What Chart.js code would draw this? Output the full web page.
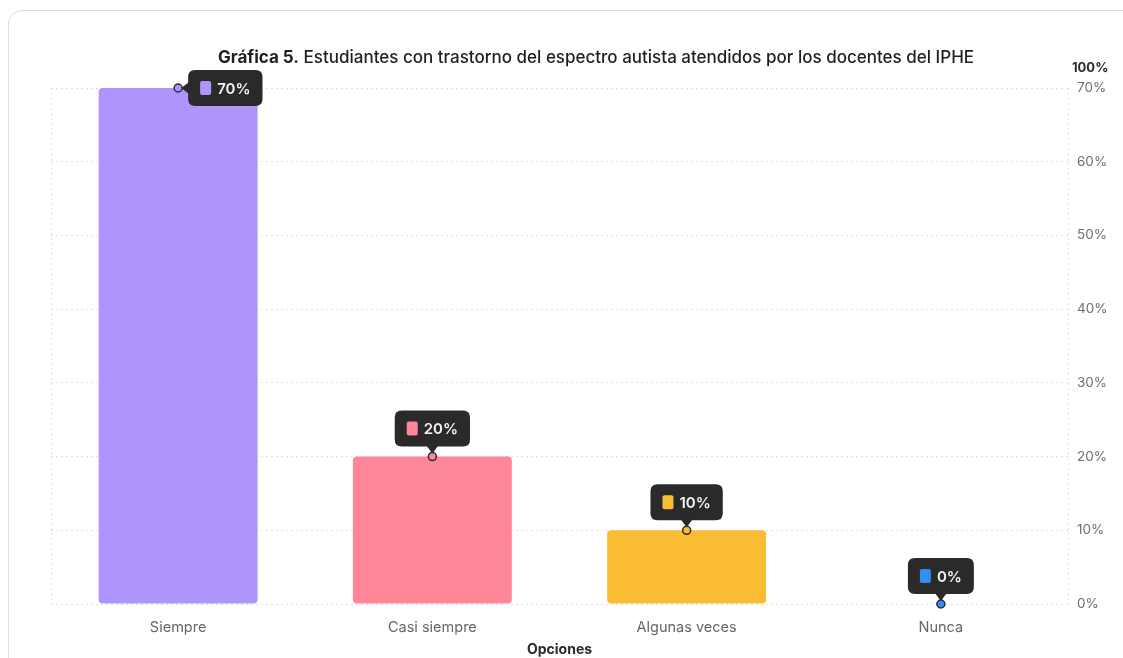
<!DOCTYPE html>
<html lang="es">
<head>
<meta charset="utf-8">
<title>Gráfica 5</title>
<script src="https://cdn.jsdelivr.net/npm/chart.js@4"></script>
<style>
  html, body { margin: 0; padding: 0; background: #ffffff; }
  body { width: 1123px; height: 658px; overflow: hidden; position: relative; }
  #card {
    position: absolute; left: 8px; top: 10px; width: 1160px; height: 700px;
    border: 1.5px solid #dcd7f6; border-radius: 14px; box-sizing: border-box;
  }
  canvas { position: absolute; left: 0; top: 0; }
</style>
</head>
<body>
<div id="card"></div>
<canvas id="chart" width="1123" height="658"></canvas>
<script>
// Respuestas de la encuesta a los docentes
const categories = ['Siempre', 'Casi siempre', 'Algunas veces', 'Nunca'];
const percentages = [70, 20, 10, 0];
const barColors = ['#ae94fd', '#ff8599', '#f9bc33', '#2f8ff2'];
const yTickValues = [0, 10, 20, 30, 40, 50, 60, 70];
const titleBold = 'Gráfica 5.';
const titleRest = ' Estudiantes con trastorno del espectro autista atendidos por los docentes del IPHE';
const yTitle = '100%';
const xTitle = 'Opciones';

const FONT = 'Inter, "Noto Sans", sans-serif';
const GRID = '#e0e0e0';

function roundRect(ctx, x, y, w, h, r) {
  ctx.beginPath();
  ctx.moveTo(x + r, y);
  ctx.lineTo(x + w - r, y);
  ctx.quadraticCurveTo(x + w, y, x + w, y + r);
  ctx.lineTo(x + w, y + h - r);
  ctx.quadraticCurveTo(x + w, y + h, x + w - r, y + h);
  ctx.lineTo(x + r, y + h);
  ctx.quadraticCurveTo(x, y + h, x, y + h - r);
  ctx.lineTo(x, y + r);
  ctx.quadraticCurveTo(x, y, x + r, y);
  ctx.closePath();
}

// Title with a bold prefix, the "100%" caption over the axis and the dotted frame lines
const decorPlugin = {
  id: 'decor',
  beforeDatasetsDraw(chart) {
    const { ctx, chartArea: a } = chart;
    ctx.save();
    ctx.strokeStyle = GRID;
    ctx.lineWidth = 1;
    ctx.setLineDash([2, 3]);
    [a.left + 0.5, a.right + 0.5].forEach(x => {
      ctx.beginPath();
      ctx.moveTo(x, a.top);
      ctx.lineTo(x, a.bottom);
      ctx.stroke();
    });
    ctx.restore();
  },
  afterDraw(chart) {
    const { ctx, chartArea: a } = chart;
    ctx.save();
    ctx.textBaseline = 'middle';
    ctx.fillStyle = '#1f1f1f';
    ctx.font = '700 17px ' + FONT;
    const wb = ctx.measureText(titleBold).width;
    ctx.font = '500 17px ' + FONT;
    const wr = ctx.measureText(titleRest).width;
    const x0 = 596 - (wb + wr) / 2;
    ctx.textAlign = 'left';
    ctx.font = '700 17px ' + FONT;
    ctx.fillText(titleBold, x0, 58);
    ctx.font = '500 17px ' + FONT;
    ctx.fillText(titleRest, x0 + wb, 58);

    ctx.fillStyle = '#2a2a2a';
    ctx.font = '700 13px ' + FONT;
    ctx.fillText(yTitle, a.right + 4, 68);
    ctx.restore();
  }
};

// Value bubbles anchored on top of every bar
const bubblePlugin = {
  id: 'bubbles',
  afterDatasetsDraw(chart) {
    const { ctx, chartArea: a } = chart;
    const meta = chart.getDatasetMeta(0);
    ctx.save();
    meta.data.forEach((bar, i) => {
      const px = bar.x, py = bar.y;
      const color = barColors[i];
      const label = percentages[i] + '%';
      ctx.font = '600 15px ' + FONT;
      const tw = ctx.measureText(label).width;
      const h = 36, padX = 12, sq = 11, gap = 6;
      const w = padX + sq + gap + tw + padX;
      let bx, by;
      const side = (py - 10 - h) < a.top;
      ctx.fillStyle = '#2a2a2a';
      if (side) {
        bx = px + 10; by = py - h / 2;
        roundRect(ctx, bx, by, w, h, 7);
        ctx.fill();
        ctx.beginPath();
        ctx.moveTo(bx + 1, py - 6);
        ctx.lineTo(px + 3, py);
        ctx.lineTo(bx + 1, py + 6);
        ctx.closePath();
        ctx.fill();
      } else {
        bx = px - w / 2; by = py - 10 - h;
        roundRect(ctx, bx, by, w, h, 7);
        ctx.fill();
        ctx.beginPath();
        ctx.moveTo(px - 6, by + h - 1);
        ctx.lineTo(px, py - 3);
        ctx.lineTo(px + 6, by + h - 1);
        ctx.closePath();
        ctx.fill();
      }
      // colour key
      ctx.fillStyle = color;
      roundRect(ctx, bx + padX, by + h / 2 - 7, sq, 14, 2);
      ctx.fill();
      // value text
      ctx.fillStyle = '#f4f4f4';
      ctx.textAlign = 'left';
      ctx.textBaseline = 'middle';
      ctx.fillText(label, bx + padX + sq + gap, by + h / 2 + 1);
      // data point marker
      ctx.beginPath();
      ctx.arc(px, py, 4, 0, Math.PI * 2);
      ctx.fillStyle = color;
      ctx.fill();
      ctx.lineWidth = 1.5;
      ctx.strokeStyle = '#2a2a2a';
      ctx.stroke();
    });
    ctx.restore();
  }
};

new Chart(document.getElementById('chart'), {
  type: 'bar',
  data: {
    labels: categories,
    datasets: [{
      data: percentages,
      backgroundColor: barColors,
      borderRadius: 4,
      borderSkipped: false,
      barPercentage: 0.625,
      categoryPercentage: 1
    }]
  },
  options: {
    responsive: false,
    animation: false,
    layout: { padding: { top: 88, left: 51, right: 0, bottom: 0 } },
    plugins: {
      legend: { display: false },
      tooltip: { enabled: false },
      title: { display: false }
    },
    scales: {
      x: {
        offset: true,
        grid: { display: false, drawTicks: false },
        border: { display: false },
        ticks: { color: '#666666', font: { family: FONT, size: 14.5 }, padding: 15 },
        title: {
          display: true, text: xTitle, color: '#2a2a2a',
          font: { family: FONT, size: 14, weight: '700' }, padding: { top: 0, bottom: 0 }
        },
        afterFit(scale) { scale.height = 54; }
      },
      y: {
        position: 'right',
        min: 0,
        max: 70,
        afterBuildTicks(scale) { scale.ticks = yTickValues.map(v => ({ value: v })); },
        grid: { color: GRID, lineWidth: 1, drawTicks: false },
        border: { display: false, dash: [2, 3] },
        ticks: {
          color: '#6f6f6f', font: { family: FONT, size: 13.5 }, padding: 9,
          callback: v => v + '%'
        },
        afterFit(scale) { scale.width = 55; }
      }
    }
  },
  plugins: [decorPlugin, bubblePlugin]
});
</script>
</body>
</html>
